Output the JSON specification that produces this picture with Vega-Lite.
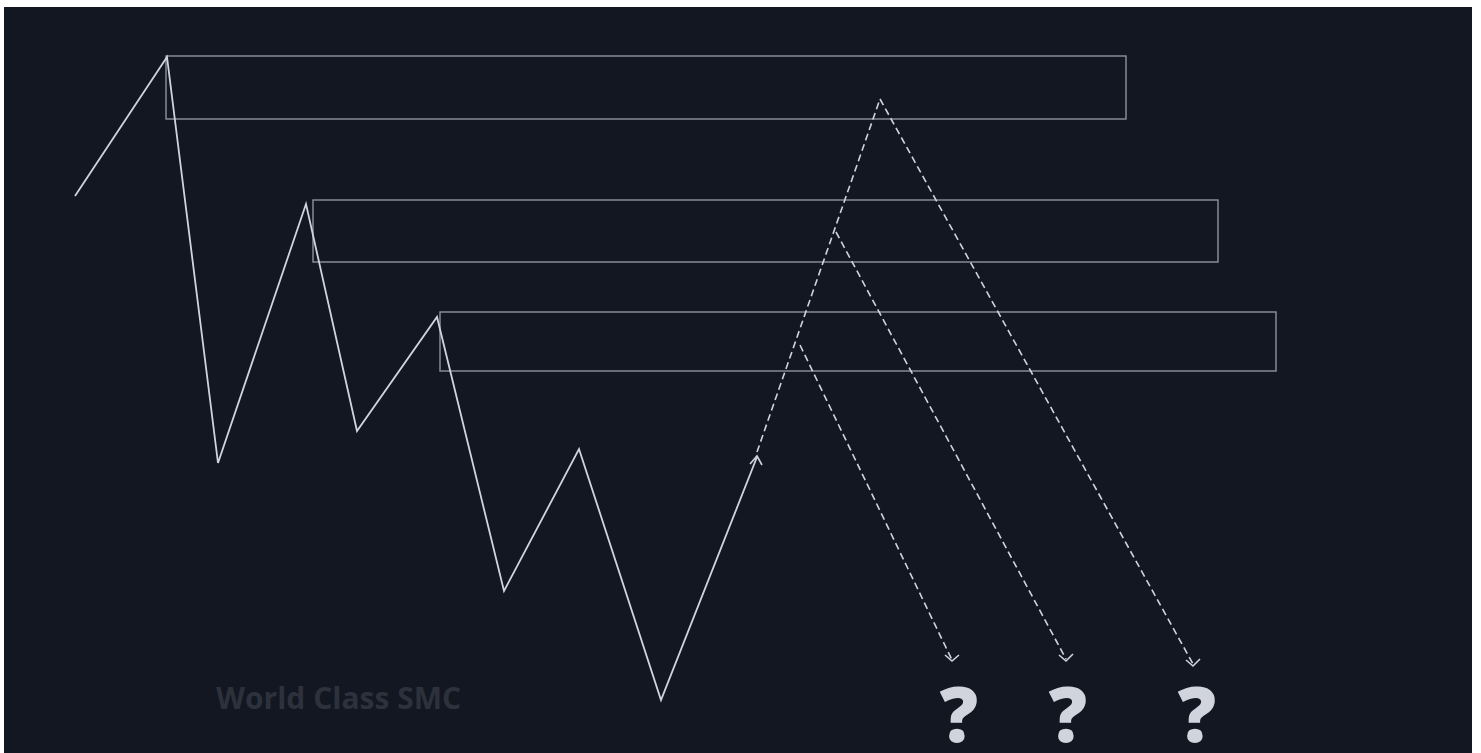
{
  "$schema": "https://vega.github.io/schema/vega-lite/v6.json",
  "autosize": {"type": "none"},
  "width": 1468,
  "height": 746,
  "padding": {"left": 4, "top": 7, "right": 9, "bottom": 0},
  "background": "#ffffff",
  "config": {"view": {"fill": "#131722", "stroke": null}},
  "datasets": {
    "boxes": [
      {"x1": 166, "x2": 1126, "y1": 56, "y2": 119},
      {"x1": 313, "x2": 1218, "y1": 200, "y2": 262},
      {"x1": 440, "x2": 1276, "y1": 312, "y2": 371}
    ],
    "path": [
      {"i": 0, "x": 75, "y": 196},
      {"i": 1, "x": 167, "y": 57},
      {"i": 2, "x": 218, "y": 463},
      {"i": 3, "x": 306, "y": 204},
      {"i": 4, "x": 357, "y": 431},
      {"i": 5, "x": 437, "y": 317},
      {"i": 6, "x": 504, "y": 591},
      {"i": 7, "x": 579, "y": 449},
      {"i": 8, "x": 661, "y": 700},
      {"i": 9, "x": 757, "y": 457}
    ],
    "dashed": [
      {"seg": "up", "i": 0, "x": 757, "y": 452},
      {"seg": "up", "i": 1, "x": 880, "y": 99},
      {"seg": "d3", "i": 0, "x": 880, "y": 99},
      {"seg": "d3", "i": 1, "x": 1193, "y": 664},
      {"seg": "d2", "i": 0, "x": 836, "y": 232},
      {"seg": "d2", "i": 1, "x": 1066, "y": 659},
      {"seg": "d1", "i": 0, "x": 800, "y": 345},
      {"seg": "d1", "i": 1, "x": 952, "y": 660}
    ],
    "arrows": [
      {"a": "up", "i": 0, "x": 750, "y": 464},
      {"a": "up", "i": 1, "x": 757, "y": 456},
      {"a": "up", "i": 2, "x": 762, "y": 465},
      {"a": "d1", "i": 0, "x": 945, "y": 655},
      {"a": "d1", "i": 1, "x": 952, "y": 661},
      {"a": "d1", "i": 2, "x": 959, "y": 655},
      {"a": "d2", "i": 0, "x": 1059, "y": 655},
      {"a": "d2", "i": 1, "x": 1066, "y": 661},
      {"a": "d2", "i": 2, "x": 1073, "y": 654},
      {"a": "d3", "i": 0, "x": 1186, "y": 660},
      {"a": "d3", "i": 1, "x": 1193, "y": 666},
      {"a": "d3", "i": 2, "x": 1200, "y": 659}
    ],
    "marks": [
      {"x": 959, "y": 742, "t": "?"},
      {"x": 1068, "y": 742, "t": "?"},
      {"x": 1197, "y": 742, "t": "?"}
    ],
    "wm": [
      {"x": 216, "y": 709, "t": "World Class SMC"}
    ]
  },
  "layer": [
    {
      "data": {"name": "boxes"},
      "mark": {"type": "rect", "fill": "#131722", "fillOpacity": 0, "stroke": "#868a94", "strokeWidth": 1.5},
      "encoding": {
        "x": {"field": "x1", "type": "quantitative", "scale": {"domain": [4, 1472], "nice": false, "zero": false}, "axis": null},
        "x2": {"field": "x2"},
        "y": {"field": "y1", "type": "quantitative", "scale": {"domain": [7, 753], "reverse": true, "nice": false, "zero": false}, "axis": null},
        "y2": {"field": "y2"}
      }
    },
    {
      "data": {"name": "path"},
      "mark": {"type": "line", "color": "#d1d4dc", "strokeWidth": 1.8},
      "encoding": {
        "x": {"field": "x", "type": "quantitative", "scale": {"domain": [4, 1472], "nice": false, "zero": false}, "axis": null},
        "y": {"field": "y", "type": "quantitative", "scale": {"domain": [7, 753], "reverse": true, "nice": false, "zero": false}, "axis": null},
        "order": {"field": "i"}
      }
    },
    {
      "data": {"name": "dashed"},
      "mark": {"type": "line", "color": "#d1d4dc", "strokeWidth": 1.6, "strokeDash": [7, 4]},
      "encoding": {
        "x": {"field": "x", "type": "quantitative", "scale": {"domain": [4, 1472], "nice": false, "zero": false}, "axis": null},
        "y": {"field": "y", "type": "quantitative", "scale": {"domain": [7, 753], "reverse": true, "nice": false, "zero": false}, "axis": null},
        "detail": {"field": "seg"},
        "order": {"field": "i"}
      }
    },
    {
      "data": {"name": "arrows"},
      "mark": {"type": "line", "color": "#d1d4dc", "strokeWidth": 1.6},
      "encoding": {
        "x": {"field": "x", "type": "quantitative", "scale": {"domain": [4, 1472], "nice": false, "zero": false}, "axis": null},
        "y": {"field": "y", "type": "quantitative", "scale": {"domain": [7, 753], "reverse": true, "nice": false, "zero": false}, "axis": null},
        "detail": {"field": "a"},
        "order": {"field": "i"}
      }
    },
    {
      "data": {"name": "marks"},
      "mark": {"type": "text", "font": "Open Sans", "fontWeight": 800, "fontSize": 76, "color": "#d1d4dc", "align": "center", "baseline": "alphabetic"},
      "encoding": {
        "x": {"field": "x", "type": "quantitative", "scale": {"domain": [4, 1472], "nice": false, "zero": false}, "axis": null},
        "y": {"field": "y", "type": "quantitative", "scale": {"domain": [7, 753], "reverse": true, "nice": false, "zero": false}, "axis": null},
        "text": {"field": "t"}
      }
    },
    {
      "data": {"name": "wm"},
      "mark": {"type": "text", "font": "Open Sans", "fontWeight": "bold", "fontSize": 30, "color": "#2d313c", "align": "left", "baseline": "alphabetic"},
      "encoding": {
        "x": {"field": "x", "type": "quantitative", "scale": {"domain": [4, 1472], "nice": false, "zero": false}, "axis": null},
        "y": {"field": "y", "type": "quantitative", "scale": {"domain": [7, 753], "reverse": true, "nice": false, "zero": false}, "axis": null},
        "text": {"field": "t"}
      }
    }
  ]
}
